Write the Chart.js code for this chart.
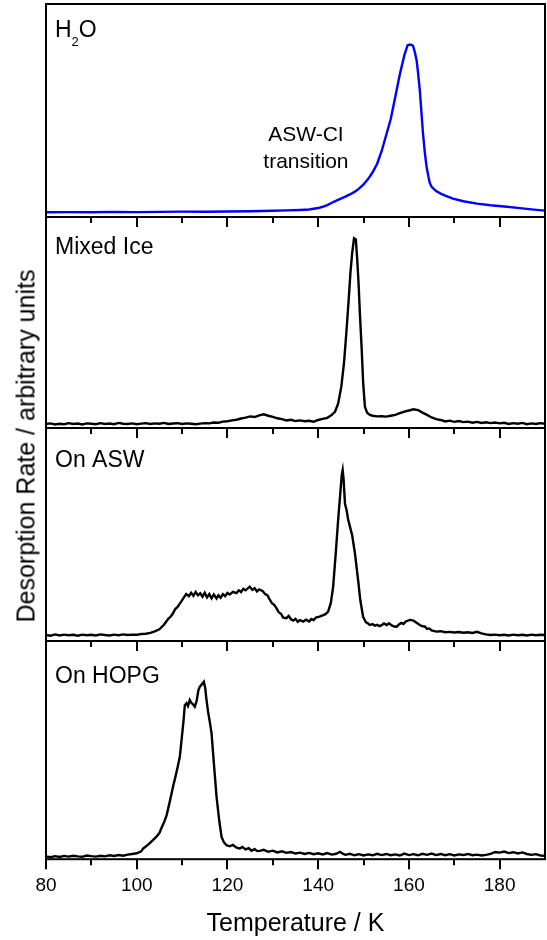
<!DOCTYPE html>
<html>
<head>
<meta charset="utf-8">
<script src="https://cdn.jsdelivr.net/npm/chart.js@4/dist/chart.umd.min.js"></script>
<style>
  body { margin: 0; background: #fff; }
  #wrap { position: relative; width: 547px; height: 940px; overflow: hidden; }
  #wrap canvas { position: absolute; left: 0; }
  #ytitle {
    position: absolute; left: 26px; top: 446px;
    transform: translate(-50%, -50%) rotate(-90deg);
    font: 25px "Liberation Sans", Arial, sans-serif;
    white-space: nowrap; color: #000;
  }
</style>
</head>
<body>
<div id="wrap">
  <canvas id="c1"></canvas>
  <canvas id="c2"></canvas>
  <canvas id="c3"></canvas>
  <canvas id="c4"></canvas>
  <div id="ytitle">Desorption Rate / arbitrary units</div>
</div>
<script>
// temperature (K) / desorption rate (arb., 0-100 per panel)
const h2oT = [80, 85, 90, 95, 100, 105, 110, 115, 120, 125, 130, 133, 136, 138, 140, 141, 142, 143, 144, 145, 146, 147, 148, 149, 150, 151, 152, 153, 154, 155, 156, 157, 158, 159, 159.7, 160, 160.5, 160.9, 161.3, 161.7, 162, 162.4, 162.8, 163.1, 163.5, 163.9, 164.3, 164.6, 165, 166, 167, 168, 169.7, 172, 175, 178, 181, 184, 187, 190];
const h2oRate = [2.2, 2.3, 2.2, 2.4, 2.3, 2.4, 2.5, 2.5, 2.6, 2.7, 2.9, 3.1, 3.3, 3.5, 4.2, 4.8, 5.6, 6.7, 7.7, 8.6, 9.6, 10.6, 11.8, 13.3, 15.3, 17.8, 21.0, 25.0, 31.0, 38.5, 46.0, 56.5, 67.0, 76.0, 80.6, 80.9, 80.9, 80.4, 77.5, 73.5, 68.0, 59.6, 48.0, 39.4, 30.5, 23.5, 19.0, 16.0, 14.2, 12.2, 11.0, 10.0, 8.6, 7.4, 6.3, 5.5, 4.9, 4.3, 3.6, 3.0];

const mixedT = [80, 81, 82, 83, 84, 85, 86, 87, 88, 89, 90, 91, 92, 93, 94, 95, 96, 97, 98, 99, 100, 101, 102, 103, 104, 105, 106, 107, 108, 109, 110, 111, 112, 113, 114, 115, 116, 117, 118, 119, 120, 121, 122, 123, 124, 125, 126, 127, 128, 129, 130, 131, 132, 133, 134, 135, 136, 137, 138, 139, 140, 141, 142, 143, 143.7, 144.4, 145.1, 145.7, 146.2, 146.7, 147.1, 147.5, 147.9, 148.3, 148.6, 148.9, 149.2, 149.6, 149.9, 150.3, 150.8, 151.4, 152, 153, 154, 155, 156, 157, 158, 159, 160, 161, 162, 163, 164, 165, 166, 167, 168, 169, 170, 171, 172, 173, 174, 175, 176, 177, 178, 179, 180, 181, 182, 183, 184, 185, 186, 187, 188, 189, 190];
const mixedRate = [1.9, 2.2, 1.7, 2.0, 1.8, 2.3, 1.9, 2.1, 1.7, 2.2, 2.0, 1.8, 2.3, 1.9, 2.1, 1.8, 2.4, 2.0, 1.9, 2.2, 1.8, 2.1, 2.3, 1.9, 2.2, 2.0, 2.4, 1.9, 2.1, 2.3, 1.9, 2.2, 2.0, 1.8, 2.1, 2.3, 2.2, 2.6, 2.5, 3.0, 3.2, 3.6, 3.9, 4.5, 4.9, 5.5, 5.2, 6.0, 6.5, 5.8, 5.3, 4.6, 4.2, 3.6, 3.9, 3.3, 3.6, 3.2, 3.4, 3.0, 3.8, 4.3, 4.8, 6.2, 7.7, 11.5, 19.6, 31.0, 44.9, 60.0, 73.3, 83.0, 89.9, 89.4, 80.0, 68.6, 54.0, 37.0, 22.0, 10.1, 7.2, 6.2, 5.8, 5.5, 5.6, 5.4, 5.8, 6.2, 7.0, 7.8, 8.3, 8.9, 8.5, 7.3, 6.2, 5.0, 4.2, 3.8, 3.1, 3.5, 2.9, 3.3, 2.8, 3.0, 2.5, 2.9, 2.4, 2.7, 2.3, 2.6, 2.2, 2.5, 1.9, 2.3, 2.0, 2.4, 1.8, 2.2, 1.9, 2.3, 2.0];

const aswT = [80, 81, 82, 83, 84, 85, 86, 87, 88, 89, 90, 91, 92, 93, 94, 95, 96, 97, 98, 99, 100, 101, 102, 103, 104, 105, 106, 107, 107.5, 108, 108.5, 109, 109.8, 110.4, 110.9, 111.5, 112, 112.5, 113, 113.5, 114, 114.5, 115, 115.5, 116, 116.5, 117, 117.6, 118, 118.5, 119, 119.5, 120, 120.5, 121.2, 122, 122.5, 123, 123.5, 124, 124.9, 125.5, 126, 126.5, 127, 127.8, 128.3, 128.8, 129.3, 129.8, 130.3, 130.8, 131.3, 131.8, 132.3, 133, 133.5, 134, 134.5, 135, 135.5, 136, 136.7, 137.3, 138, 138.5, 139, 139.5, 140.3, 141, 141.6, 142.2, 142.8, 143.3, 143.9, 144.4, 144.9, 145.2, 145.4, 145.6, 145.9, 146.3, 146.6, 147, 147.5, 148.1, 148.5, 148.8, 149.3, 149.9, 150.5, 151, 151.4, 152, 152.5, 153, 153.5, 154, 154.5, 155.1, 155.6, 156.2, 156.8, 157.3, 157.8, 158.3, 158.8, 159.3, 160.2, 161, 161.6, 162.4, 163, 163.5, 164, 164.5, 165, 166.1, 167, 168, 169, 170, 171, 172, 173, 174, 175, 176, 177, 178, 179, 180, 181, 182, 183, 184, 185, 186, 187, 188, 189, 190];
const aswRate = [2.8, 2.5, 3.1, 2.6, 3.0, 2.7, 2.9, 2.5, 3.0, 2.7, 2.9, 2.6, 3.1, 2.8, 2.6, 3.0, 2.7, 3.1, 2.8, 3.0, 2.9, 3.3, 3.4, 3.8, 4.5, 5.5, 7.6, 10.5, 11.5, 13.0, 15.0, 16.0, 18.5, 20.5, 22.1, 21.0, 22.6, 21.2, 23.0, 21.5, 22.4, 20.8, 22.6, 20.5, 22.0, 20.0, 21.8, 20.0, 21.5, 20.3, 22.0, 21.0, 22.6, 21.8, 23.1, 22.5, 23.8, 23.0, 24.5, 23.8, 25.5, 24.0, 24.8, 23.3, 24.2, 23.4, 22.0, 21.5, 19.5, 17.8, 17.0, 15.4, 13.5, 12.8, 11.0, 10.7, 11.8, 10.2, 9.6, 10.4, 9.0, 9.8, 9.1, 10.0, 9.2, 10.3, 9.8, 11.0, 11.4, 12.0, 12.6, 13.8, 18.0, 25.5, 42.0, 56.8, 70.0, 78.0, 80.3, 76.0, 64.6, 61.0, 57.0, 53.7, 49.5, 41.2, 34.0, 28.6, 19.0, 11.4, 8.8, 8.2, 7.5, 7.9, 7.2, 7.6, 7.0, 7.4, 8.2, 7.5, 8.3, 7.3, 6.8, 6.7, 7.8, 8.5, 8.0, 9.2, 9.9, 9.6, 8.7, 7.5, 6.9, 6.8, 5.7, 5.9, 5.0, 4.4, 4.6, 4.1, 4.3, 4.0, 4.2, 3.9, 4.1, 3.8, 4.3, 3.6, 3.1, 2.8, 3.0, 2.7, 2.9, 2.6, 3.0, 2.7, 2.9, 2.6, 3.0, 2.7, 2.9, 2.8];

const hopgT = [80, 81, 82, 83, 84, 85, 86, 87, 88, 89, 90, 91, 92, 93, 94, 95, 96, 97, 98, 99, 100, 101, 101.4, 102, 103, 104.3, 105, 105.5, 106, 106.6, 107.3, 108, 108.5, 109, 109.5, 110, 110.3, 110.6, 111, 111.3, 111.7, 112, 112.4, 112.8, 113.2, 113.6, 113.9, 114.3, 114.8, 115.1, 115.3, 115.7, 116.1, 116.5, 117, 117.6, 118.2, 118.7, 119.2, 119.8, 120.5, 121.2, 122, 122.7, 123.3, 124, 124.7, 125.3, 126, 126.6, 127.1, 128, 129, 130, 131, 132, 133, 134, 135, 136, 137, 138, 139, 140, 141, 142, 143, 144, 144.8, 145.5, 146, 147, 148, 149, 150, 151, 152, 153, 154, 155, 156, 157, 158, 159, 160, 161, 162, 163, 164, 165, 166, 167, 168, 169, 170, 171, 172, 173, 174, 175, 176, 177, 178, 179, 180, 181, 182, 183, 184, 185, 186, 187, 188, 189, 190];
const hopgRate = [1.3, 0.9, 1.4, 1.0, 1.5, 1.2, 1.6, 1.3, 1.1, 1.7, 1.4, 1.2, 1.6, 1.3, 1.8, 1.5, 1.9, 1.6, 2.1, 2.4, 2.7, 3.6, 4.9, 5.8, 7.6, 10.2, 12.0, 14.5, 16.8, 20.2, 26.5, 33.2, 37.5, 42.0, 46.9, 57.0, 63.0, 70.6, 71.5, 70.2, 72.9, 71.8, 71.0, 69.9, 72.5, 77.5, 79.0, 80.0, 81.3, 78.5, 74.4, 68.0, 63.0, 57.7, 44.0, 28.6, 17.5, 10.2, 7.8, 6.4, 5.9, 6.6, 5.3, 4.9, 5.6, 4.5, 5.1, 3.9, 4.6, 3.7, 3.8, 4.3, 3.4, 3.9, 3.1, 3.6, 2.9, 3.3, 2.6, 3.0, 2.4, 2.9, 2.3, 2.7, 2.2, 2.8, 2.1, 2.5, 3.4, 2.4, 2.0, 2.5, 1.8, 2.3, 1.7, 2.2, 1.8, 2.5, 1.9, 2.4, 1.8, 2.2, 1.7, 2.6, 1.9, 2.3, 1.8, 2.5, 2.0, 2.6, 1.9, 2.4, 1.8, 2.3, 1.7, 2.2, 1.9, 2.4, 1.8, 2.1, 1.7, 2.0, 2.4, 3.3, 3.0, 3.5, 2.8, 3.2, 2.6, 3.1, 2.4, 2.0, 2.3, 1.7, 1.5];

const majorTicks = [80, 100, 120, 140, 160, 180];
const minorTicks = [90, 110, 130, 150, 170];

const FONT = '"Liberation Sans", Arial, sans-serif';
Chart.defaults.font.family = FONT;
Chart.defaults.color = '#000';

// box, outward ticks on the bottom edge, panel label
const framePlugin = {
  id: 'frame',
  afterDatasetsDraw(chart, args, opts) {
    const { ctx, chartArea: a } = chart;
    const x = chart.scales.x;
    ctx.save();
    ctx.strokeStyle = '#000';
    ctx.lineWidth = 2;
    ctx.strokeRect(a.left, a.top, a.right - a.left, a.bottom - a.top);
    ctx.beginPath();
    majorTicks.forEach(v => {
      const px = Math.round(x.getPixelForValue(v));
      ctx.moveTo(px, a.bottom); ctx.lineTo(px, a.bottom + 10);
    });
    minorTicks.forEach(v => {
      const px = Math.round(x.getPixelForValue(v));
      ctx.moveTo(px, a.bottom); ctx.lineTo(px, a.bottom + 6);
    });
    ctx.stroke();

    ctx.fillStyle = '#000';
    ctx.textBaseline = 'alphabetic';
    ctx.textAlign = 'left';
    let lx = a.left + 9;
    const ly = a.top + opts.dy;
    opts.label.forEach(part => {
      ctx.font = (part.sub ? '13px ' : '23px ') + FONT;
      ctx.fillText(part.text, lx, part.sub ? ly + 9 : ly);
      lx += ctx.measureText(part.text).width;
    });

    if (opts.note) {
      ctx.font = '21px ' + FONT;
      ctx.textAlign = 'center';
      const nx = x.getPixelForValue(opts.note.at);
      opts.note.lines.forEach((s, i) => ctx.fillText(s, nx, a.top + opts.note.dy + i * 27));
    }
    ctx.restore();
  }
};

const panels = [
  { id: 'c1', top: 4, bottom: 217, t: h2oT, v: h2oRate, color: '#0000ff', dy: 33,
    label: [{ text: 'H' }, { text: '2', sub: true }, { text: 'O' }],
    note: { at: 137.3, dy: 137, lines: ['ASW-CI', 'transition'] } },
  { id: 'c2', top: 217, bottom: 428, t: mixedT, v: mixedRate, color: '#000', dy: 37, label: [{ text: 'Mixed Ice' }] },
  { id: 'c3', top: 428, bottom: 641, t: aswT, v: aswRate, color: '#000', dy: 39, label: [{ text: 'On ASW' }] },
  { id: 'c4', top: 641, bottom: 859, t: hopgT, v: hopgRate, color: '#000', dy: 42, label: [{ text: 'On HOPG' }], last: true }
];

panels.forEach(p => {
  const canvas = document.getElementById(p.id);
  canvas.style.top = (p.top - 4) + 'px';
  canvas.width = 547;
  canvas.height = p.last ? 940 - (p.top - 4) : (p.bottom - p.top) + 18;

  new Chart(canvas.getContext('2d'), {
    type: 'line',
    data: {
      datasets: [{
        data: p.t.map((t, i) => ({ x: t, y: p.v[i] })),
        borderColor: p.color,
        borderWidth: 2.4,
        pointRadius: 0,
        tension: 0,
        fill: false
      }]
    },
    options: {
      responsive: false,
      animation: false,
      events: [],
      layout: { padding: { left: 46, right: 2, top: 4, bottom: p.last ? 0 : 14 } },
      plugins: {
        legend: { display: false },
        tooltip: { enabled: false },
        frame: { label: p.label, dy: p.dy, note: p.note }
      },
      scales: {
        x: {
          type: 'linear', min: 80, max: 190,
          display: !!p.last,
          grid: { display: false, drawTicks: false },
          border: { display: false },
          ticks: {
            stepSize: 20, includeBounds: false, autoSkip: false, maxRotation: 0, padding: 15,
            font: { size: 19 }
          },
          title: {
            display: true, text: 'Temperature / K',
            font: { size: 25, lineHeight: 1 },
            padding: { top: 0, bottom: 3 }
          }
        },
        y: { display: false, min: 0, max: 100 }
      }
    },
    plugins: [framePlugin]
  });
});
</script>
</body>
</html>
